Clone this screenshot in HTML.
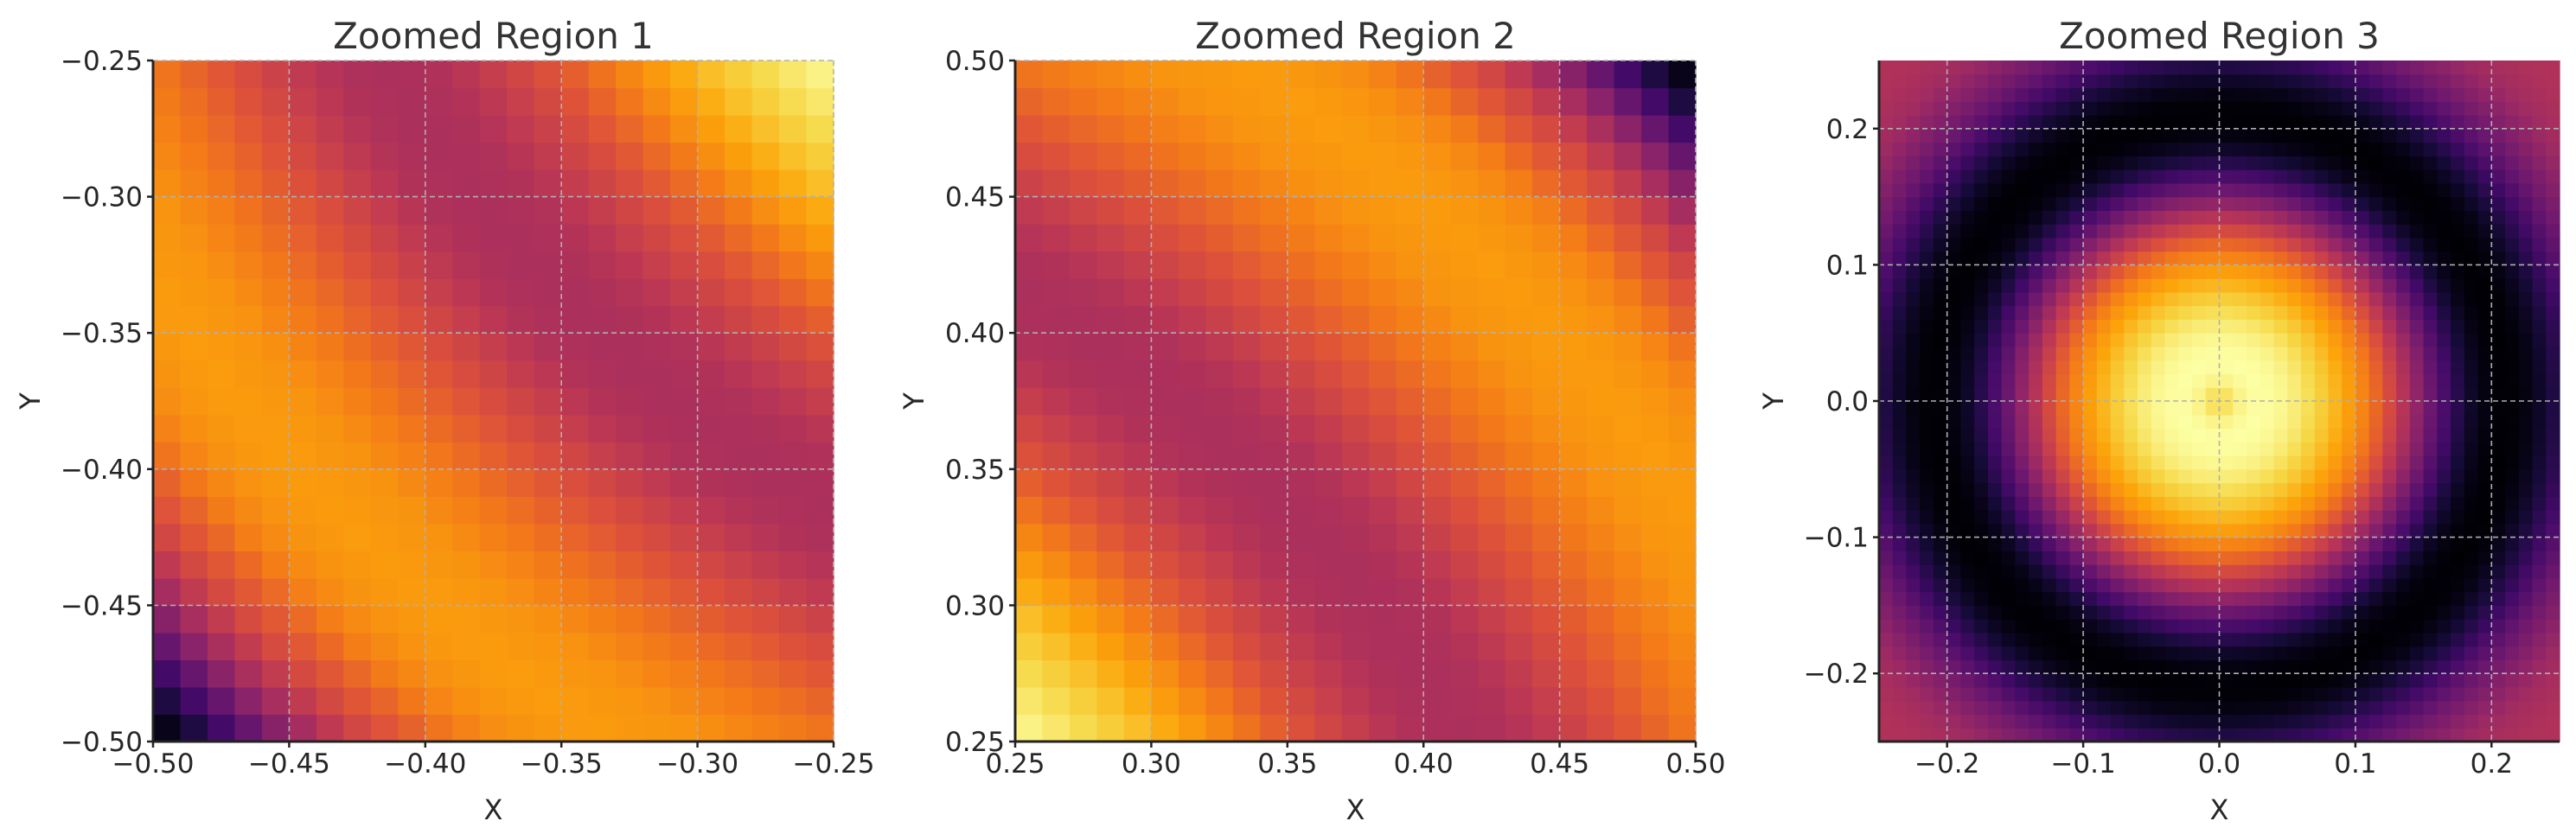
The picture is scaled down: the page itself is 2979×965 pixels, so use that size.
<!DOCTYPE html>
<html><head><meta charset="utf-8"><style>
html,body{margin:0;padding:0;background:#fff;}
svg{display:block;font-family:"DejaVu Sans","Liberation Sans",sans-serif;}
</style></head><body>
<svg id="fig" width="2979" height="965" viewBox="0 0 2979 965" xmlns="http://www.w3.org/2000/svg"></svg>
<script>
// ---- data ----
const panelTitles = ["Zoomed Region 1", "Zoomed Region 2", "Zoomed Region 3"];
const xRanges = [[-0.5, -0.25], [0.25, 0.5], [-0.25, 0.25]];
const yRanges = [[-0.5, -0.25], [0.25, 0.5], [-0.25, 0.25]];
const gridCounts = [25, 25, 50];
const xTicks1 = [-0.50, -0.45, -0.40, -0.35, -0.30, -0.25];
const xTickLabels1 = ["\u22120.50", "\u22120.45", "\u22120.40", "\u22120.35", "\u22120.30", "\u22120.25"];
const xTicks2 = [0.25, 0.30, 0.35, 0.40, 0.45, 0.50];
const xTickLabels2 = ["0.25", "0.30", "0.35", "0.40", "0.45", "0.50"];
const xTicks3 = [-0.2, -0.1, 0.0, 0.1, 0.2];
const xTickLabels3 = ["\u22120.2", "\u22120.1", "0.0", "0.1", "0.2"];
// radial intensity profiles (normalized colormap value)
const profileStart = [0.35, 0.35, 0.0];
const profile1 = [1.0,0.97,0.93,0.89,0.85,0.80,0.75,0.69,0.63,0.58,0.54,0.50,0.47,0.46,0.46,0.47,0.50,0.54,0.58,0.62,0.66,0.70,0.73,0.76,0.77,0.78,0.77,0.75,0.71,0.64,0.58,0.50,0.40,0.28,0.15,0.04,0.0];
const profile2 = [1.0,0.97,0.93,0.89,0.85,0.80,0.75,0.69,0.63,0.58,0.54,0.50,0.47,0.46,0.46,0.47,0.50,0.54,0.58,0.62,0.66,0.70,0.73,0.76,0.77,0.78,0.77,0.75,0.71,0.64,0.58,0.50,0.40,0.28,0.15,0.04,0.0];
const profile3 = [0.88,0.95,0.99,1.0,0.99,0.97,0.94,0.90,0.86,0.81,0.76,0.70,0.62,0.53,0.44,0.35,0.26,0.18,0.10,0.04,0.01,0.0,0.01,0.04,0.09,0.15,0.21,0.27,0.32,0.36,0.40,0.43,0.45,0.46,0.47,0.47,0.47];

// ---- layout ----
const boxes = [{l:177,t:70,w:787,h:788},{l:1174,t:70,w:787,h:788},{l:2173,t:70,w:787,h:788}];
const NS = "http://www.w3.org/2000/svg";
const svg = document.getElementById('fig');
const inf = [[0,[0,0,4]],[0.1,[22,11,57]],[0.2,[66,10,104]],[0.3,[106,23,110]],[0.4,[147,38,103]],[0.5,[188,55,84]],[0.6,[221,81,58]],[0.7,[243,120,25]],[0.8,[252,165,10]],[0.9,[246,215,70]],[1,[252,255,164]]];
function cmap(v){v=Math.max(0,Math.min(1,v));for(let i=1;i<inf.length;i++){if(v<=inf[i][0]){const a=inf[i-1],b=inf[i],f=(v-a[0])/(b[0]-a[0]);const c=a[1].map((x,k)=>Math.round(x+(b[1][k]-x)*f));return `rgb(${c[0]},${c[1]},${c[2]})`;}}return 'rgb(252,255,164)';}
function lookup(prof,start,r){const p=(r-start)/0.01;const i=Math.max(0,Math.min(prof.length-1,Math.floor(p)));const j=Math.min(prof.length-1,i+1);const f=Math.max(0,Math.min(1,p-i));return prof[i]+(prof[j]-prof[i])*f;}
function mk(tag,attrs,parent){const e=document.createElementNS(NS,tag);for(const k in attrs)e.setAttribute(k,attrs[k]);(parent||svg).appendChild(e);return e;}
const profiles=[profile1,profile2,profile3];
const xT=[xTicks1,xTicks2,xTicks3], xL=[xTickLabels1,xTickLabels2,xTickLabels3];
for(let p=0;p<3;p++){
  const b=boxes[p],xr=xRanges[p],yr=yRanges[p],n=gridCounts[p];
  const sx=v=>b.l+(v-xr[0])/(xr[1]-xr[0])*b.w;
  const sy=v=>b.t+b.h-(v-yr[0])/(yr[1]-yr[0])*b.h;
  const g=mk('g',{});
  
  
  const cw=(xr[1]-xr[0])/n, ch=(yr[1]-yr[0])/n;
  for(let i=0;i<n;i++)for(let j=0;j<n;j++){
    const x0=xr[0]+i*cw, y0=yr[0]+j*ch;
    const cx=x0+cw/2, cy=y0+ch/2, r=Math.hypot(cx,cy);
    const v=lookup(profiles[p],profileStart[p],r);
    const c=mk('rect',{x:sx(x0).toFixed(2),y:sy(y0+ch).toFixed(2),width:(sx(x0+cw)-sx(x0)+0.6).toFixed(2),height:(sy(y0)-sy(y0+ch)+0.6).toFixed(2),fill:cmap(v)},g);
    
    
  }
  const yT=xT[p], yL=xL[p];
  for(let k=0;k<xT[p].length;k++){
    const x=sx(xT[p][k]);
    const gl=mk('line',{x1:x,y1:b.t,x2:x,y2:b.t+b.h,stroke:'#b0b0b0','stroke-width':1.6,'stroke-dasharray':'6,4'});
    
    
    mk('line',{x1:x,y1:b.t+b.h,x2:x,y2:b.t+b.h+7,stroke:'#222','stroke-width':2.5});
    const t=mk('text',{x:x,y:b.t+b.h+36,'font-size':31,fill:'#262626','text-anchor':'middle'});
    t.textContent=xL[p][k];
    
    
  }
  for(let k=0;k<yT.length;k++){
    const y=sy(yT[k]);
    const gl=mk('line',{x1:b.l,y1:y,x2:b.l+b.w,y2:y,stroke:'#b0b0b0','stroke-width':1.6,'stroke-dasharray':'6,4'});
    
    
    mk('line',{x1:b.l-7,y1:y,x2:b.l,y2:y,stroke:'#222','stroke-width':2.5});
    const t=mk('text',{x:b.l-12,y:y+11,'font-size':31,fill:'#262626','text-anchor':'end'});
    t.textContent=yL[k];
    
    
  }
  const ax=mk('path',{d:`M${b.l},${b.t} L${b.l},${b.t+b.h} L${b.l+b.w},${b.t+b.h}`,fill:'none',stroke:'#222','stroke-width':3});
  
  
  const tt=mk('text',{x:b.l+b.w/2,y:56,'font-size':42,fill:'#333','text-anchor':'middle'});
  tt.textContent=panelTitles[p];
  
  
  const xl=mk('text',{x:b.l+b.w/2,y:948,'font-size':32,fill:'#262626','text-anchor':'middle'});
  xl.textContent='X';
  
  
  const ylx=[46,1068,2062][p];
  const yl=mk('text',{x:ylx,y:b.t+b.h/2,'font-size':32,fill:'#262626','text-anchor':'middle',transform:`rotate(-90 ${ylx} ${b.t+b.h/2})`});
  yl.textContent='Y';
  
  
}
</script>
</body></html>
